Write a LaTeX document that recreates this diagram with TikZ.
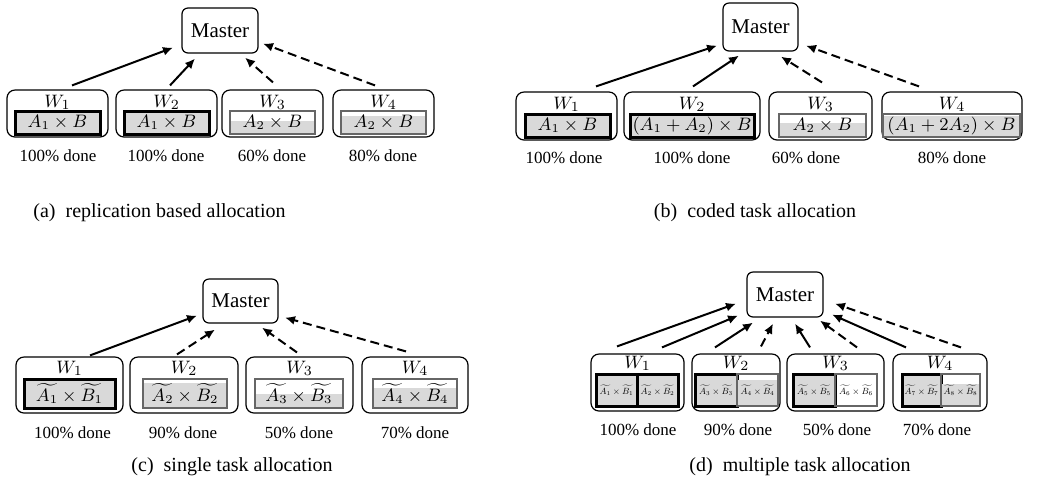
\documentclass[tikz,border=0pt]{standalone}
\usepackage{fontspec}
\setmainfont{Liberation Serif}
\usetikzlibrary{arrows.meta,calc,positioning}
\definecolor{barfill}{gray}{0.85}
\newcommand{\shrink}[1]{\scalebox{0.5}{#1}}

\begin{document}
\begin{tikzpicture}[x=0.5pt, y=-0.5pt,
    master/.style={draw, rounded corners=3pt, line width=0.6pt, inner sep=0pt,
                   minimum width=38pt, minimum height=22.5pt, font=\fontsize{10.5}{12}\selectfont},
    worker/.style={draw, rounded corners=4pt, line width=0.6pt, inner sep=0pt},
    wlab/.style={inner sep=0pt, font=\fontsize{9.5}{10}\selectfont},
    task/.style={draw=black!60, line width=0.6pt, inner sep=0pt, font=\fontsize{9}{10}\selectfont,
                 path picture={\fill[barfill] (path picture bounding box.south west) rectangle
                   ($(path picture bounding box.south east)!#1!(path picture bounding box.north east)$);}},
    full/.style={task=1, draw=black, line width=1.5pt},
    note/.style={font=\fontsize{8.5}{10}\selectfont},
    subcap/.style={font=\fontsize{10}{12}\selectfont},
    arr/.style={-{Latex[length=5pt,width=4.5pt]}, line width=1pt},
    slow/.style={dash pattern=on 4.5pt off 2.5pt}]
    %\draw[help lines] (0,0) grid (1058,495);
    \useasboundingbox (0,0) rectangle (1058,495);

   % (a) replication
   \node[master] (am) at (220,30.5) {Master};
   \node[worker, minimum width=50.5pt, minimum height=23.5pt] (a1) at (57.5,113.5) {};
   \node[worker, minimum width=50.5pt, minimum height=23.5pt] (a2) at (166.5,113.5) {};
   \node[worker, minimum width=50.5pt, minimum height=23.5pt] (a3) at (272.5,113.5) {};
   \node[worker, minimum width=50.5pt, minimum height=23.5pt] (a4) at (383.5,113.5) {};
   \node[wlab, below=2.5pt of a1.north] (a1w) {$W_1$};
   \node[wlab, below=2.5pt of a2.north] (a2w) {$W_2$};
   \node[wlab, below=2.5pt of a3.north] (a3w) {$W_3$};
   \node[wlab, below=2.5pt of a4.north] (a4w) {$W_4$};
   \node[full, minimum width=42.5pt, minimum height=11.5pt] (a1t) at (57.5,122.5) {$A_1\times B$};
   \node[full, minimum width=42.5pt, minimum height=11.5pt] (a2t) at (166.5,122.5) {$A_1\times B$};
   \node[task=0.55, minimum width=42.5pt, minimum height=11.5pt] (a3t) at (272.5,122.5) {$A_2\times B$};
   \node[task=0.8, minimum width=42.5pt, minimum height=11.5pt] (a4t) at (383.5,122.5) {$A_2\times B$};
   \node[note] (a1n) at (58,156) {100\% done};
   \node[note] (a2n) at (166,156) {100\% done};
   \node[note] (a3n) at (272,156) {60\% done};
   \node[note] (a4n) at (383,156) {80\% done};
   \node[subcap] (acap) at (159.5,213) {(a)~ replication based allocation};

   \path[arr]
    ($(a1.north)+(14.5,-4)$) edge ($(am.south)+(-47,-6)$)
    ($(a2.north)+(3.5,-4)$) edge ($(am.south)+(-25,5)$)
    ($(a3.north)+(0.5,-7)$) edge[slow] ($(am.south)+(25,4)$)
    ($(a4.north)+(-8.5,-4)$) edge[slow] ($(am.south)+(43,-10)$);

   % (b) coded
   \node[master, minimum width=37.5pt, minimum height=24pt] (bm) at (760.5,27) {Master};
   \node[worker, minimum width=50.5pt, minimum height=24pt] (b1) at (566.5,116) {};
   \node[worker, minimum width=68pt, minimum height=24pt] (b2) at (692,116) {};
   \node[worker, minimum width=51.5pt, minimum height=24pt] (b3) at (820.5,116) {};
   \node[worker, minimum width=70pt, minimum height=24pt] (b4) at (952,116) {};
   \node[wlab, below=2.5pt of b1.north] (b1w) {$W_1$};
   \node[wlab, below=2.5pt of b2.north] (b2w) {$W_2$};
   \node[wlab, below=2.5pt of b3.north] (b3w) {$W_3$};
   \node[wlab, below=2.5pt of b4.north] (b4w) {$W_4$};
   \node[full, minimum width=42.5pt, minimum height=11.5pt] (b1t) at (567.5,125.5) {$A_1\times B$};
   \node[full, minimum width=62pt, minimum height=11.5pt] (b2t) at (692,125.5) {$(A_1+A_2)\times B$};
   \node[task=0.6, minimum width=43.5pt, minimum height=11.5pt] (b3t) at (822.5,125.5) {$A_2\times B$};
   \node[task=0.9, minimum width=68.5pt, minimum height=11.5pt] (b4t) at (951.5,125.5) {$(A_1+2A_2)\times B$};
   \node[note] (b1n) at (564,158) {100\% done};
   \node[note] (b2n) at (692,158) {100\% done};
   \node[note] (b3n) at (806,158) {60\% done};
   \node[note] (b4n) at (952,158) {80\% done};
   \node[subcap] (bcap) at (755,213) {(b)~ coded task allocation};

   \path[arr]
    ($(b1.north)+(29.5,-5)$) edge ($(bm.south)+(-43.5,-6)$)
    ($(b2.north)+(1,-5)$) edge ($(bm.south)+(-21.5,4)$)
    ($(b3.north)+(1.5,-9)$) edge[slow] ($(bm.south)+(20.5,5)$)
    ($(b4.north)+(-33,-5)$) edge[slow] ($(bm.south)+(45.5,-6)$);

   % (c) single task
   \node[master, minimum width=37.5pt, minimum height=22pt] (cm) at (240.5,301) {Master};
   \node[worker, minimum width=53.5pt, minimum height=28pt] (c1) at (69.5,385) {};
   \node[worker, minimum width=54pt, minimum height=28pt] (c2) at (184,385) {};
   \node[worker, minimum width=53.5pt, minimum height=28pt] (c3) at (299.5,385) {};
   \node[worker, minimum width=53pt, minimum height=28pt] (c4) at (415,385) {};
   \node[wlab, below=2pt of c1.north] (c1w) {$W_1$};
   \node[wlab, below=2pt of c2.north] (c2w) {$W_2$};
   \node[wlab, below=2pt of c3.north] (c3w) {$W_3$};
   \node[wlab, below=2pt of c4.north] (c4w) {$W_4$};
   \node[full, minimum width=45.5pt, minimum height=14.5pt] (c1t) at (69.5,393.5) {$\widetilde{A_1}\times\widetilde{B_1}$};
   \node[task=0.85, minimum width=42pt, minimum height=14.5pt] (c2t) at (185,393.5) {$\widetilde{A_2}\times\widetilde{B_2}$};
   \node[task=0.5, minimum width=44pt, minimum height=14.5pt] (c3t) at (299,393.5) {$\widetilde{A_3}\times\widetilde{B_3}$};
   \node[task=0.7, minimum width=42pt, minimum height=14.5pt] (c4t) at (415,393.5) {$\widetilde{A_4}\times\widetilde{B_4}$};
   \node[note] (c1n) at (72.5,433) {100\% done};
   \node[note] (c2n) at (183,433) {90\% done};
   \node[note] (c3n) at (299,433) {50\% done};
   \node[note] (c4n) at (415,433) {70\% done};
   \node[subcap] (ccap) at (232,467) {(c)~ single task allocation};

   \path[arr]
    ($(c1.north)+(20.5,-1)$) edge ($(cm.south)+(-43.5,-8)$)
    ($(c2.north)+(-7,-2)$) edge[slow] ($(cm.south)+(-25.5,6)$)
    ($(c3.north)+(-2.5,-4)$) edge[slow] ($(cm.south)+(21.5,4)$)
    ($(c4.north)+(-9,-5)$) edge[slow] ($(cm.south)+(44.5,-6)$);

   % (d) multiple tasks
   \node[master] (dm) at (785,294.5) {Master};
   \node[worker, minimum width=46.5pt, minimum height=28.5pt] (d1) at (637.5,382.5) {};
   \node[worker, minimum width=44pt, minimum height=28.5pt] (d2) at (736,382.5) {};
   \node[worker, minimum width=48.5pt, minimum height=28.5pt] (d3) at (835.5,382.5) {};
   \node[worker, minimum width=47pt, minimum height=28.5pt] (d4) at (940,382.5) {};
   \node[wlab, below=1pt of d1.north] (d1w) {$W_1$};
   \node[wlab, below=1pt of d2.north] (d2w) {$W_2$};
   \node[wlab, below=1pt of d3.north] (d3w) {$W_3$};
   \node[wlab, below=1pt of d4.north] (d4w) {$W_4$};
   \node[full, minimum width=20.5pt, minimum height=16pt] (d1l) at (616.5,390) {\shrink{$\widetilde{A_1}\times\widetilde{B_1}$}};
   \node[full, minimum width=20.5pt, minimum height=16pt] (d1r) at (657.5,390) {\shrink{$\widetilde{A_2}\times\widetilde{B_2}$}};
   \node[full, minimum width=21pt, minimum height=16pt] (d2l) at (716,390) {\shrink{$\widetilde{A_3}\times\widetilde{B_3}$}};
   \node[task=0.8, minimum width=20.5pt, minimum height=16pt] (d2r) at (757.5,390) {\shrink{$\widetilde{A_4}\times\widetilde{B_4}$}};
   \node[full, minimum width=21pt, minimum height=16pt] (d3l) at (814,390) {\shrink{$\widetilde{A_5}\times\widetilde{B_5}$}};
   \node[task=0, minimum width=21pt, minimum height=16pt] (d3r) at (856,390) {\shrink{$\widetilde{A_6}\times\widetilde{B_6}$}};
   \node[full, minimum width=19.5pt, minimum height=16pt] (d4l) at (921.5,390) {\shrink{$\widetilde{A_7}\times\widetilde{B_7}$}};
   \node[task=0.7, minimum width=19.5pt, minimum height=16pt] (d4r) at (960.5,390) {\shrink{$\widetilde{A_8}\times\widetilde{B_8}$}};
   \node[note] (d1n) at (638,430) {100\% done};
   \node[note] (d2n) at (738,430) {90\% done};
   \node[note] (d3n) at (837,430) {50\% done};
   \node[note] (d4n) at (937,430) {70\% done};
   \node[subcap] (dcap) at (800,467) {(d)~ multiple task allocation};

   \path[arr]
    ($(d1.north)+(-20.5,-7)$) edge ($(dm.south)+(-49,-14)$)
    ($(d1.north)+(24.5,-6)$) edge ($(dm.south)+(-47,-2)$)
    ($(d2.north)+(-21,-6)$) edge ($(dm.south)+(-32,5)$)
    ($(d2.north)+(25,-7)$) edge[slow] ($(dm.south)+(-12,6)$)
    ($(d3.north)+(-25.5,-6)$) edge ($(dm.south)+(10,6)$)
    ($(d3.north)+(21.5,-6)$) edge[slow] ($(dm.south)+(35,3)$)
    ($(d4.north)+(-34,-6)$) edge ($(dm.south)+(47,-3)$)
    ($(d4.north)+(21,-6)$) edge[slow] ($(dm.south)+(50,-14)$);

\end{tikzpicture}
\end{document}
